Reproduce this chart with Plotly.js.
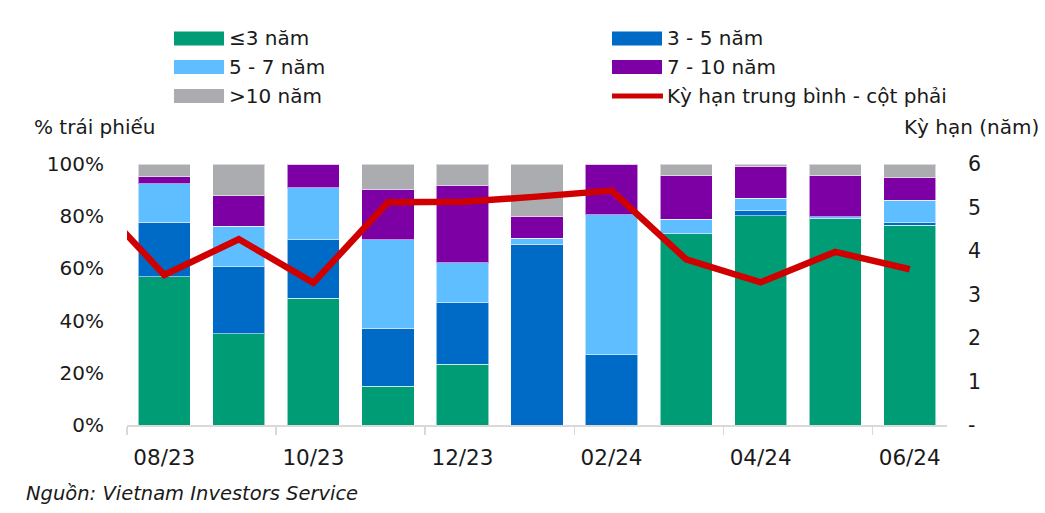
<!DOCTYPE html>
<html>
<head>
<meta charset="utf-8">
<script src="https://cdn.plot.ly/plotly-3.0.1.min.js"></script>
<style>html,body{margin:0;padding:0;background:#fff;}#chart{width:1045px;height:513px;}</style>
</head>
<body>
<div id="chart"></div>
<script>
// ---- data ----
const months = ['08/23','09/23','10/23','11/23','12/23','01/24','02/24','03/24','04/24','05/24','06/24'];
const seriesNames = ['≤3 năm','3 - 5 năm','5 - 7 năm','7 - 10 năm','>10 năm'];
const le3   = [56.8, 34.9, 48.5, 14.9, 23.2,  0.0,  0.0, 73.3, 80.2, 79.0, 76.5];
const y3to5 = [20.9, 25.8, 22.4, 22.1, 23.7, 69.3, 26.9,  0.0,  1.8,  0.0,  0.9];
const y5to7 = [14.8, 15.4, 20.0, 33.9, 15.3,  2.2, 53.6,  5.5,  4.9,  0.7,  8.7];
const y7to10= [ 2.6, 11.8,  9.1, 19.5, 29.6,  8.5, 19.5, 16.7, 12.1, 15.8,  8.7];
const gt10  = [ 4.9, 12.1,  0.0,  9.6,  8.2, 20.0,  0.0,  4.5,  1.0,  4.5,  5.2];
const lineName = 'Kỳ hạn trung bình - cột phải';
const lineMonths = ['07/23','08/23','09/23','10/23','11/23','12/23','01/24','02/24','03/24','04/24','05/24','06/24'];
const avgMaturity = [5.29, 3.45, 4.27, 3.27, 5.12, 5.13, 5.25, 5.39, 3.81, 3.28, 3.98, 3.58];
const leftTicks = [0, 20, 40, 60, 80, 100];
const leftTickText = ['0%', '20%', '40%', '60%', '80%', '100%'];
const rightTicks = [0, 1, 2, 3, 4, 5, 6];
const rightTickText = ['-', '1', '2', '3', '4', '5', '6'];
const leftTitle = '% trái phiếu';
const rightTitle = 'Kỳ hạn (năm)';
const sourceText = 'Nguồn: Vietnam Investors Service';

// ---- styling ----
const colors = ['#009C76', '#006BC6', '#5EBEFF', '#7D00A5', '#ABACAF'];
const lineColor = '#D00000';
const FONT = 'DejaVu Sans, Verdana, sans-serif';
const TXT = '#1a1a1a';
const W = 1045, H = 513;
const PL = 127, PR = 947, PT = 164, PB = 425;
const px = x => (x - PL) / (PR - PL);
const py = y => (PB - y) / (PB - PT);

const xIdx = months.map((m, i) => i);
const lineX = lineMonths.map(m => months.indexOf(m) === -1 ? -1 : months.indexOf(m));
const seriesVals = [le3, y3to5, y5to7, y7to10, gt10];

const traces = seriesVals.map((vals, k) => ({
  type: 'bar', name: seriesNames[k], x: xIdx, y: vals,
  marker: {color: colors[k], line: {width: 1, color: 'rgba(255,255,255,0.55)'}},
  showlegend: false, hoverinfo: 'skip'
}));
traces.push({
  type: 'scatter', mode: 'lines', name: lineName, x: lineX, y: avgMaturity, yaxis: 'y2',
  line: {color: lineColor, width: 6.5, shape: 'linear'}, showlegend: false, hoverinfo: 'skip'
});

// ---- manual legend ----
const shapes = [];
const annotations = [];
const legendCols = [174, 612];
const legendRows = [38.5, 67, 96];
const legendItems = seriesNames.map((n, k) => ({name: n, color: colors[k], kind: 'bar'}));
legendItems.push({name: lineName, color: lineColor, kind: 'line'});
legendItems.forEach((it, i) => {
  const cx = legendCols[i % 2], cy = legendRows[Math.floor(i / 2)];
  if (it.kind === 'bar') {
    shapes.push({type: 'rect', xref: 'paper', yref: 'paper', x0: px(cx), x1: px(cx + 50),
      y0: py(cy + 7), y1: py(cy - 7), fillcolor: it.color, line: {width: 0}, layer: 'above'});
  } else {
    shapes.push({type: 'line', xref: 'paper', yref: 'paper', x0: px(cx), x1: px(cx + 51),
      y0: py(cy), y1: py(cy), line: {color: it.color, width: 5}, layer: 'above'});
  }
  annotations.push({xref: 'paper', yref: 'paper', x: px(cx + 53), y: py(cy), xanchor: 'left', yanchor: 'middle',
    text: it.name, showarrow: false, font: {family: FONT, size: 20, color: TXT}});
});
annotations.push({xref: 'paper', yref: 'paper', x: px(32), y: py(127), xanchor: 'left', yanchor: 'middle',
  text: leftTitle, showarrow: false, font: {family: FONT, size: 20, color: TXT}});
annotations.push({xref: 'paper', yref: 'paper', x: px(1041), y: py(127), xanchor: 'right', yanchor: 'middle',
  text: rightTitle, showarrow: false, font: {family: FONT, size: 20, color: TXT}});
annotations.push({xref: 'paper', yref: 'paper', x: px(24), y: py(493), xanchor: 'left', yanchor: 'middle',
  text: sourceText, showarrow: false, font: {family: FONT, size: 19.5, color: TXT, style: 'italic'}});

const boundaries = [];
for (let i = 0; i < months.length; i += 2) boundaries.push(i - 0.5);

const layout = {
  width: W, height: H,
  margin: {l: PL, r: W - PR, t: PT, b: H - PB, pad: 0},
  paper_bgcolor: '#fff', plot_bgcolor: '#fff',
  barmode: 'stack', bargap: 0.3,
  showlegend: false,
  font: {family: FONT, size: 20, color: TXT},
  xaxis: {
    range: [-0.5, months.length - 0.5], fixedrange: true,
    tickmode: 'array', tickvals: xIdx.filter(i => i % 2 === 0), ticktext: months.filter((m, i) => i % 2 === 0),
    ticks: '', showgrid: false, zeroline: false,
    showline: true, linecolor: '#d9d9d9', linewidth: 1.5,
    ticklabelstandoff: 13,
    minor: {tickmode: 'array', tickvals: boundaries, ticks: 'outside', ticklen: 8, tickwidth: 1.5, tickcolor: '#d9d9d9', showgrid: false},
    tickfont: {family: FONT, size: 21.5, color: TXT}
  },
  yaxis: {
    range: [0, 100], tickmode: 'array', tickvals: leftTicks, ticktext: leftTickText,
    ticks: '', showgrid: false, zeroline: false, showline: false,
    ticklabelstandoff: 22,
    tickfont: {family: FONT, size: 20, color: TXT}
  },
  yaxis2: {
    range: [0, 6], overlaying: 'y', side: 'right', tickmode: 'array', tickvals: rightTicks, ticktext: rightTickText,
    ticks: '', showgrid: false, zeroline: false, showline: false,
    ticklabelstandoff: 20,
    tickfont: {family: FONT, size: 20.5, color: TXT}
  },
  shapes: shapes,
  annotations: annotations
};

Plotly.newPlot('chart', traces, layout, {staticPlot: true, displayModeBar: false});
</script>
</body>
</html>
